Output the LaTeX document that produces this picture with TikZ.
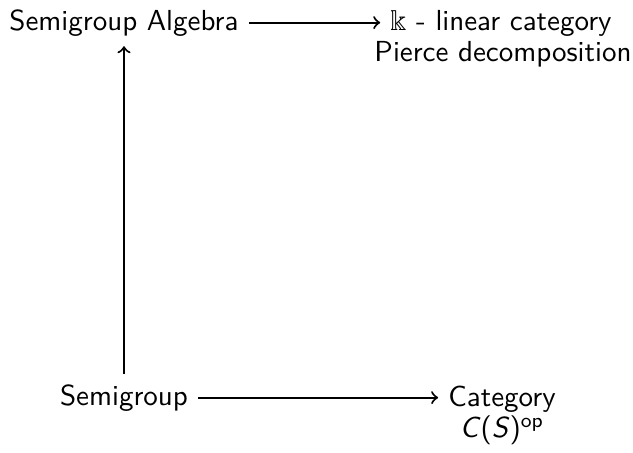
\documentclass[tikz,border=0pt]{standalone}
\usepackage{amssymb}
\begin{document}
\begin{tikzpicture}[x=0.345pt,y=-0.345pt, font=\sffamily, >=to,
  lbl/.style={inner sep=3.333pt, anchor=base}, arr/.style={->, line width=0.7pt}]
\useasboundingbox (0,0) rectangle (633,452);
\node[lbl] (A) at (124,30) {Semigroup Algebra};
\node[lbl] (B) at (501,30) {$\Bbbk$ - linear category};
\node[lbl] (B2) at (503,61) {Pierce decomposition};
\node[lbl] (C) at (124,405) {Semigroup};
\node[lbl, anchor=north, align=center] (D) at (502,376) {Category\\[-1.3pt]\textsl{C}(\textsl{S})\textsuperscript{op}};
\draw[arr] (A) -- (A -| B.west);
\draw[arr] (C) -- (C -| D.west);
\draw[arr] (C) -- (A);
\end{tikzpicture}
\end{document}
